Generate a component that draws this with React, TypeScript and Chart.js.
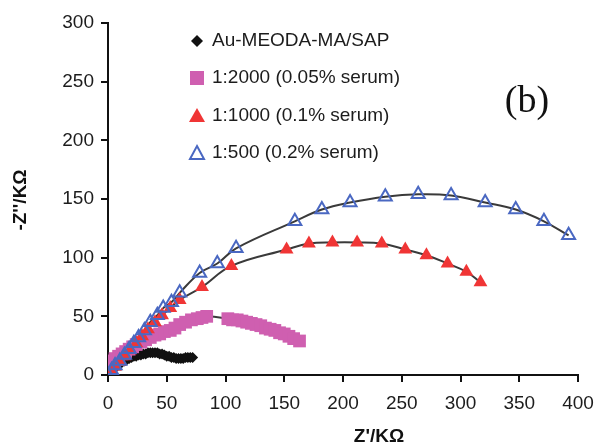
import React, { useEffect, useRef } from "react";
import { Chart, registerables } from "chart.js";

Chart.register(...registerables);

// ---- data ----
const seriesLabels = [
  "Au-MEODA-MA/SAP",
  "1:2000 (0.05% serum)",
  "1:1000 (0.1% serum)",
  "1:500 (0.2% serum)",
];

const blackX = [0, 2, 4, 6, 8, 10, 12, 14, 16, 18, 20, 22, 24, 26, 28, 30, 32, 34, 36, 38, 40, 42, 44, 46, 48, 50, 52, 54, 56, 58, 60, 62, 64, 66, 68, 70, 72];
const blackY = [0, 2, 4, 6, 8, 9, 11, 12, 13, 14, 15, 16, 16, 17, 17, 18, 18, 19, 19, 19, 19, 19, 18, 18, 17, 16, 16, 15, 15, 14, 14, 14, 14, 15, 15, 15, 15];

const pinkX = [0, 2, 4, 6, 9, 12, 15, 18, 21, 24, 28, 32, 36, 40, 44, 48, 53, 57, 61, 66, 71, 76, 80, 84,
  102, 106, 110, 114, 118, 122, 126, 130, 134, 138, 142, 146, 150, 154, 158, 163];
const pinkY = [8, 10, 12, 14, 16, 18, 20, 22, 24, 26, 28, 30, 32, 34, 35, 37, 38, 40, 43, 45, 47, 48, 49, 50,
  48, 47, 47, 46, 45, 44, 43, 42, 40, 39, 38, 36, 35, 33, 31, 29];

const redX = [0, 3, 6, 10, 14, 19, 24, 29, 34, 40, 46, 53, 61, 80, 105, 152, 171, 191, 212, 233, 253, 271, 289, 305, 317];
const redY = [0, 3, 7, 11, 16, 21, 27, 33, 39, 45, 51, 57, 64, 75, 93, 107, 112, 113, 113, 112, 107, 102, 95, 88, 79];

const blueX = [0, 3, 6, 10, 14, 18, 22, 26, 31, 36, 42, 47, 54, 61, 78, 93, 109, 159, 182, 206, 236, 264, 292, 321, 347, 371, 392];
const blueY = [0, 4, 8, 12, 17, 22, 27, 32, 38, 45, 51, 57, 62, 70, 87, 95, 108, 131, 141, 147, 152, 154, 153, 147, 141, 131, 119];

const xMin = 0, xMax = 400, xStep = 50;
const yMin = 0, yMax = 300, yStep = 50;

const xTitle = "Z'/KΩ";
const yTitle = "-Z''/KΩ";
const panelTag = "(b)";

// ---- styles ----
const BLACK = "#111111";
const PINK = "#cf5fb0";
const RED = "#f03535";
const BLUE = "#4a68c2";
const FIT = "#3a3a3a";
const TEXT = "#1c1c1c";
const SANS = "'Liberation Sans', Arial, sans-serif";

const pts = (xs: number[], ys: number[]) => xs.map((x, i) => ({ x, y: ys[i] }));

const overlayPlugin = {
  id: "overlay",
  afterDraw(chart: any) {
    const ctx = chart.ctx as CanvasRenderingContext2D;
    ctx.save();
    // legend
    const rows = [41, 78, 116, 153];
    const mx = 197;
    const tx = 212;
    ctx.font = `19px ${SANS}`;
    ctx.fillStyle = TEXT;
    ctx.textBaseline = "middle";
    ctx.textAlign = "left";
    rows.forEach((ry, i) => {
      ctx.save();
      if (i === 0) {
        ctx.fillStyle = BLACK;
        ctx.beginPath();
        ctx.moveTo(mx, ry - 6);
        ctx.lineTo(mx + 6, ry);
        ctx.lineTo(mx, ry + 6);
        ctx.lineTo(mx - 6, ry);
        ctx.closePath();
        ctx.fill();
      } else if (i === 1) {
        ctx.fillStyle = PINK;
        ctx.fillRect(mx - 7, ry - 7, 14, 14);
      } else if (i === 2) {
        ctx.fillStyle = RED;
        ctx.beginPath();
        ctx.moveTo(mx, ry - 8);
        ctx.lineTo(mx + 8, ry + 6);
        ctx.lineTo(mx - 8, ry + 6);
        ctx.closePath();
        ctx.fill();
      } else {
        ctx.strokeStyle = BLUE;
        ctx.lineWidth = 2;
        ctx.beginPath();
        ctx.moveTo(mx, ry - 7);
        ctx.lineTo(mx + 7, ry + 6);
        ctx.lineTo(mx - 7, ry + 6);
        ctx.closePath();
        ctx.stroke();
      }
      ctx.restore();
      ctx.fillText(seriesLabels[i], tx, ry);
    });
    // panel tag
    ctx.font = `38px 'Liberation Serif', 'Times New Roman', serif`;
    ctx.textAlign = "center";
    ctx.fillStyle = "#111";
    ctx.fillText(panelTag, 527, 102);
    // axis titles
    ctx.font = `bold 19px ${SANS}`;
    ctx.fillText(xTitle, 379, 437);
    ctx.save();
    ctx.translate(21, 200);
    ctx.rotate(-Math.PI / 2);
    ctx.fillText(yTitle, 0, 0);
    ctx.restore();
    ctx.restore();
  },
};

export default function App() {
  const ref = useRef<HTMLCanvasElement | null>(null);

  useEffect(() => {
    if (!ref.current) return;
    const fitCommon = {
      type: "line" as const,
      showLine: true,
      pointRadius: 0,
      borderColor: FIT,
      borderWidth: 2,
      tension: 0.4,
      fill: false,
    };
    const chart = new Chart(ref.current, {
      type: "scatter",
      data: {
        datasets: [
          { label: seriesLabels[3], data: pts(blueX, blueY), pointStyle: "triangle", pointRadius: 7.5,
            pointBorderWidth: 2, borderColor: BLUE, backgroundColor: "rgba(0,0,0,0)", order: 1 },
          { label: seriesLabels[2], data: pts(redX, redY), pointStyle: "triangle", pointRadius: 8,
            pointBorderWidth: 0, borderColor: RED, backgroundColor: RED, order: 2 },
          { label: seriesLabels[1], data: pts(pinkX, pinkY), pointStyle: "rect", pointRadius: 9,
            pointBorderWidth: 0, borderColor: PINK, backgroundColor: PINK, order: 3 },
          { label: seriesLabels[0], data: pts(blackX, blackY), pointStyle: "rectRot", pointRadius: 5.5,
            pointBorderWidth: 0, borderColor: BLACK, backgroundColor: BLACK, order: 4 },
          { ...fitCommon, label: "fit-blue", data: pts(blueX, blueY), order: 5 },
          { ...fitCommon, label: "fit-red", data: pts(redX, redY), order: 6 },
          { ...fitCommon, label: "fit-pink", data: pts(pinkX, pinkY), order: 7 },
        ] as any,
      },
      options: {
        animation: false,
        responsive: false,
        layout: { padding: { top: 23, right: 20, left: 0, bottom: 0 } },
        plugins: { legend: { display: false }, tooltip: { enabled: false } },
        scales: {
          x: {
            type: "linear",
            min: xMin,
            max: xMax,
            ticks: { stepSize: xStep, color: TEXT, font: { family: SANS, size: 19 }, padding: 10 },
            grid: { drawOnChartArea: false, drawTicks: true, tickLength: 7, color: "#111", lineWidth: 2 },
            border: { display: true, color: "#111", width: 2 },
            afterFit: (s: any) => { s.height = 71; s.paddingLeft = 0; s.paddingRight = 0; },
          },
          y: {
            type: "linear",
            min: yMin,
            max: yMax,
            ticks: { stepSize: yStep, color: TEXT, font: { family: SANS, size: 19 }, padding: 7 },
            grid: { drawOnChartArea: false, drawTicks: true, tickLength: 7, color: "#111", lineWidth: 2 },
            border: { display: true, color: "#111", width: 2 },
            afterFit: (s: any) => { s.width = 108; s.paddingTop = 0; s.paddingBottom = 0; },
          },
        },
      } as any,
      plugins: [overlayPlugin],
    });
    return () => chart.destroy();
  }, []);

  return (
    <div style={{ position: "absolute", left: 0, top: 0, width: 598, height: 446, background: "#fff" }}>
      <canvas ref={ref} width={598} height={446} style={{ display: "block", width: 598, height: 446 }} />
    </div>
  );
}
